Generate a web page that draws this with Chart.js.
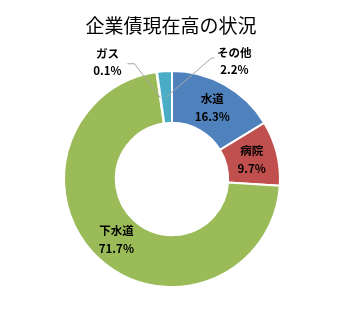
<!DOCTYPE html>
<html>
<head>
<meta charset="utf-8">
<script src="https://cdn.jsdelivr.net/npm/chart.js@4"></script>
<style>
  html, body { margin: 0; padding: 0; background: #fff; }
  #wrap { width: 344px; height: 320px; position: relative; }
</style>
</head>
<body>
<div id="wrap"><canvas id="debtChart"></canvas></div>
<script>
const chartTitle = "企業債現在高の状況";
const categories = ["水道", "病院", "下水道", "ガス", "その他"];
const shares = [16.3, 9.7, 71.7, 0.1, 2.2];
const shareLabels = ["16.3%", "9.7%", "71.7%", "0.1%", "2.2%"];

// labels that sit outside the ring, with a leader line back to the slice
const outside = {
  3: { dx: -53, dy: -36, elbow: [27, 2], end: [20, 2] },
  4: { dx: 68, dy: -36, elbow: [-23, -3], end: [-20, -3] }
};

const sliceLabels = {
  id: "sliceLabels",
  afterDatasetsDraw(chart) {
    const ctx = chart.ctx;
    const arcs = chart.getDatasetMeta(0).data;
    ctx.save();
    // title
    ctx.fillStyle = "#000";
    ctx.textAlign = "center";
    ctx.textBaseline = "middle";
    ctx.font = "19px 'Noto Sans CJK JP'";
    ctx.fillText(chartTitle, 171, 26);

    arcs.forEach((arc, i) => {
      const c = arc.getCenterPoint();
      let x = c.x, y = c.y;
      const o = outside[i];
      if (o) {
        x = c.x + o.dx;
        y = c.y + o.dy;
        ctx.strokeStyle = "#a6a6a6";
        ctx.lineWidth = 1;
        ctx.beginPath();
        ctx.moveTo(c.x, c.y);
        ctx.lineTo(x + o.elbow[0], y + o.elbow[1]);
        ctx.lineTo(x + o.end[0], y + o.end[1]);
        ctx.stroke();
      }
      ctx.fillStyle = "#000";
      ctx.font = "bold 11.5px 'Noto Sans CJK JP'";
      ctx.fillText(categories[i], x, y - 8.5);
      ctx.fillText(shareLabels[i], x, y + 9);
    });
    ctx.restore();
  }
};

new Chart(document.getElementById("debtChart"), {
  type: "doughnut",
  data: {
    labels: categories,
    datasets: [{
      data: shares,
      backgroundColor: ["#4f81bd", "#c0504d", "#9bbb59", "#8064a2", "#4bacc6"],
      borderColor: "#ffffff",
      borderWidth: 2
    }]
  },
  options: {
    responsive: true,
    maintainAspectRatio: false,
    animation: false,
    cutout: "52%",
    layout: { padding: { top: 70, bottom: 32, left: 0, right: 0 } },
    plugins: {
      legend: { display: false },
      tooltip: { enabled: false },
      title: { display: false }
    }
  },
  plugins: [sliceLabels]
});
</script>
</body>
</html>
